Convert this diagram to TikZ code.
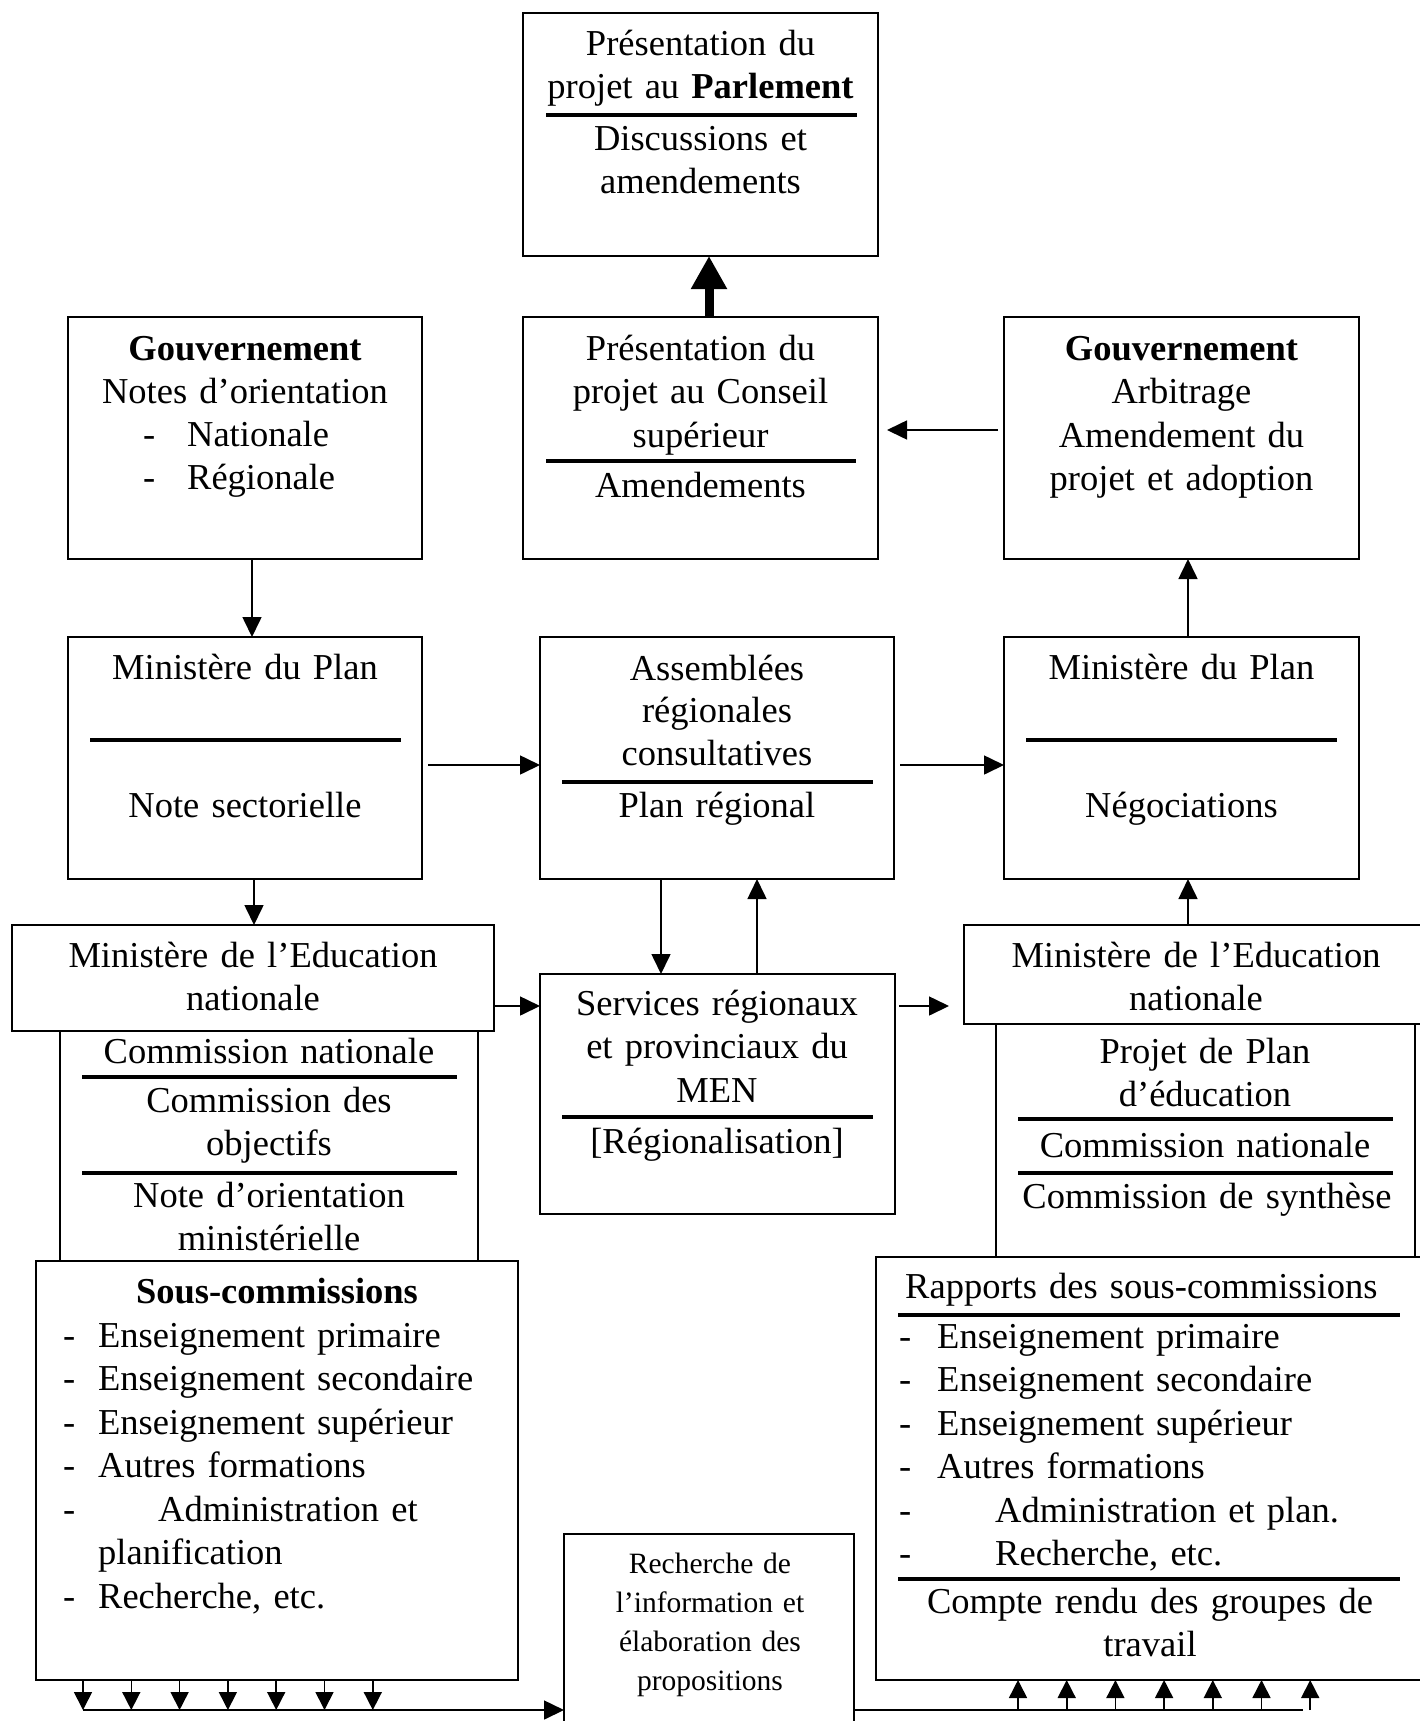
\documentclass[tikz,border=0pt]{standalone}
\usepackage{fontspec}
\setmainfont{Liberation Serif}
\usetikzlibrary{arrows.meta}
\newcommand{\listdash}[1][35pt]{\makebox[#1][l]{-}}

\begin{document}
\begin{tikzpicture}[x=1pt, y=-1pt, >={Triangle[length=20pt,width=19pt]},
   box/.style={draw, line width=1.6pt, inner sep=0pt, outer sep=0pt, anchor=north west},
   txt/.style={inner sep=0pt, text width=480pt, align=center, anchor=base, font=\fontsize{36.5}{43.5}\selectfont},
   lst/.style={txt, align=left, anchor=base west},
   small/.style={txt, font=\fontsize{29.5}{39}\selectfont},
   sepline/.style={line width=4pt},
   arr/.style={line width=1.6pt, ->},
   bigarr/.style={line width=9pt, -{Triangle[length=33pt,width=34pt]}}]
   \clip (0,0) rectangle (1420,1721);
   \fill[white] (0,0) rectangle (1420,1721);
   % boxes
   \node[box, minimum width=355pt, minimum height=243pt] (parl)     at (523,13)   {};
   \node[box, minimum width=355pt, minimum height=242pt] (conseil)  at (523,317)  {};
   \node[box, minimum width=354pt, minimum height=242pt] (gouvL)    at (68,317)   {};
   \node[box, minimum width=355pt, minimum height=242pt] (gouvR)    at (1004,317) {};
   \node[box, minimum width=354pt, minimum height=242pt] (planL)    at (68,637)   {};
   \node[box, minimum width=354pt, minimum height=242pt] (assemb)   at (540,637)  {};
   \node[box, minimum width=355pt, minimum height=242pt] (planR)    at (1004,637) {};
   \node[box, minimum width=418pt, minimum height=230pt] (commL)    at (60,1031)  {};
   \node[box, minimum width=482pt, minimum height=106pt] (menL)     at (12,925)   {};
   \node[box, minimum width=355pt, minimum height=240pt] (services) at (540,974)  {};
   \node[box, minimum width=419pt, minimum height=233pt] (projet)   at (996,1024) {};
   \node[box, minimum width=470pt, minimum height=99pt]  (menR)     at (964,925)  {};
   \node[box, minimum width=482pt, minimum height=419pt] (souscomm) at (36,1261)  {};
   \node[box, minimum width=560pt, minimum height=423pt] (rapports) at (876,1257) {};
   \node[box, minimum width=290pt, minimum height=220pt] (recherche) at (564,1534) {};

   % separators
   \draw[sepline] (546,115) -- (857,115);
   \draw[sepline] (546,461) -- (856,461);
   \draw[sepline] (90,740) -- (401,740);
   \draw[sepline] (562,782) -- (873,782);
   \draw[sepline] (1026,740) -- (1337,740);
   \draw[sepline] (82,1077) -- (457,1077);
   \draw[sepline] (82,1173) -- (457,1173);
   \draw[sepline] (562,1117) -- (873,1117);
   \draw[sepline] (1018,1119) -- (1393,1119);
   \draw[sepline] (1018,1173) -- (1393,1173);
   \draw[sepline] (898,1315) -- (1400,1315);
   \draw[sepline] (898,1579) -- (1400,1579);

   % texts
   \node[txt] (parl-a) at (700.5,55) {Présentation du\\projet au \textbf{Parlement}};
   \node[txt] (parl-b) at (700.5,150) {Discussions et\\amendements};
   \node[txt] (conseil-a) at (700.5,360) {Présentation du\\projet au Conseil\\supérieur};
   \node[txt] (conseil-b) at (700.5,497) {Amendements};
   \node[txt] (gouvL-a) at (245,360) {\textbf{Gouvernement}\\Notes d’orientation};
   \node[lst] (gouvL-b) at (143,446) {\listdash[44pt]Nationale\\\listdash[44pt]Régionale};
   \node[txt] (gouvR-a) at (1181.5,360) {\textbf{Gouvernement}\\Arbitrage\\Amendement du\\projet et adoption};
   \node[txt] (planL-a) at (245,679) {Ministère du Plan};
   \node[txt] (planL-b) at (245,817) {Note sectorielle};
   \node[txt, font=\fontsize{36.5}{42.5}\selectfont] (assemb-a) at (717,680) {Assemblées\\régionales\\consultatives};
   \node[txt] (assemb-b) at (717,817) {Plan régional};
   \node[txt] (planR-a) at (1181.5,679) {Ministère du Plan};
   \node[txt] (planR-b) at (1181.5,817) {Négociations};
   \node[txt] (menL-a) at (253,967) {Ministère de l’Education\\nationale};
   \node[txt] (commL-a) at (269,1063) {Commission nationale};
   \node[txt] (commL-b) at (269,1112) {Commission des\\objectifs};
   \node[txt] (commL-c) at (269,1207) {Note d’orientation\\ministérielle};
   \node[txt] (services-a) at (717,1015) {Services régionaux\\et provinciaux du\\MEN};
   \node[txt] (services-b) at (717,1153) {[Régionalisation]};
   \node[txt] (menR-a) at (1196,967) {Ministère de l’Education\\nationale};
   \node[txt] (projet-a) at (1205,1063) {Projet de Plan\\d’éducation};
   \node[txt] (projet-b) at (1205,1157) {Commission nationale};
   \node[txt] (projet-c) at (1207,1208) {Commission de synthèse};
   \node[txt] (souscomm-a) at (277,1303) {\textbf{Sous-commissions}};
   \node[lst] (souscomm-b) at (63,1347) {\listdash Enseignement primaire\\\listdash Enseignement secondaire\\\listdash Enseignement supérieur\\\listdash Autres formations\\\listdash[95pt]Administration et\\\hspace*{35pt}planification\\\listdash Recherche, etc.};
   \node[lst] (rapports-a) at (905,1298) {Rapports des sous-commissions};
   \node[lst] (rapports-b) at (899,1348) {\listdash[38pt]Enseignement primaire\\\listdash[38pt]Enseignement secondaire\\\listdash[38pt]Enseignement supérieur\\\listdash[38pt]Autres formations\\\listdash[96pt]Administration et plan.\\\listdash[96pt]Recherche, etc.};
   \node[txt] (rapports-c) at (1150,1613) {Compte rendu des groupes de\\travail};
   \node[small] (recherche-a) at (710,1573) {Recherche de\\l’information et\\élaboration des\\propositions};

   % connectors
   \draw[bigarr] ([xshift=8.5pt]conseil.north) -- ([xshift=8.5pt]parl.south);
   \draw[arr] ([xshift=-6pt,yshift=8pt]gouvR.west) -- ([xshift=9pt,yshift=8pt]conseil.east);
   \draw[arr] ([xshift=7pt]gouvL.south) -- ([xshift=7pt]planL.north);
   \draw[arr] ([xshift=6.5pt]planR.north) -- ([xshift=6.5pt]gouvR.south);
   \draw[arr] ([xshift=6pt,yshift=-7pt]planL.east) -- ([yshift=-7pt]assemb.west);
   \draw[arr] ([xshift=6pt,yshift=-7pt]assemb.east) -- ([yshift=-7pt]planR.west);
   \draw[arr] ([xshift=9pt]planL.south) -- ([xshift=1pt]menL.north);
   \draw[arr] ([xshift=-11pt]menR.north) -- ([xshift=6.5pt]planR.south);
   \draw[arr] ([xshift=-56pt]assemb.south) -- ([xshift=-56.5pt]services.north);
   \draw[arr] ([xshift=39.5pt]services.north) -- ([xshift=40pt]assemb.south);
   \draw[arr] ([yshift=-28pt]menL.east) -- ([yshift=88pt]services.west);
   \draw[arr] ([xshift=4pt,yshift=88pt]services.east) -- ([xshift=-15pt,yshift=-31.5pt]menR.west);

   \coordinate (busL) at (83,1710);
   \coordinate (busR) at (1303,1710);
   \foreach \i in {0,...,6} {
      \coordinate (dn\i) at ([xshift={47pt+48.3pt*\i}]souscomm.south west);
      \draw[arr, -{Triangle[length=18pt,width=18pt]}] (dn\i) -- (dn\i |- busL);
   }
   \draw[arr] (busL) -- (busL -| recherche.west);
   \draw[line width=1.6pt] (busL -| recherche.east) -- (busR);
   \foreach \i in {0,...,6} {
      \coordinate (up\i) at ([xshift={142pt+48.7pt*\i}]rapports.south west);
      \draw[arr, -{Triangle[length=18pt,width=18pt]}] (up\i |- busR) -- (up\i);
   }
\end{tikzpicture}
\end{document}
